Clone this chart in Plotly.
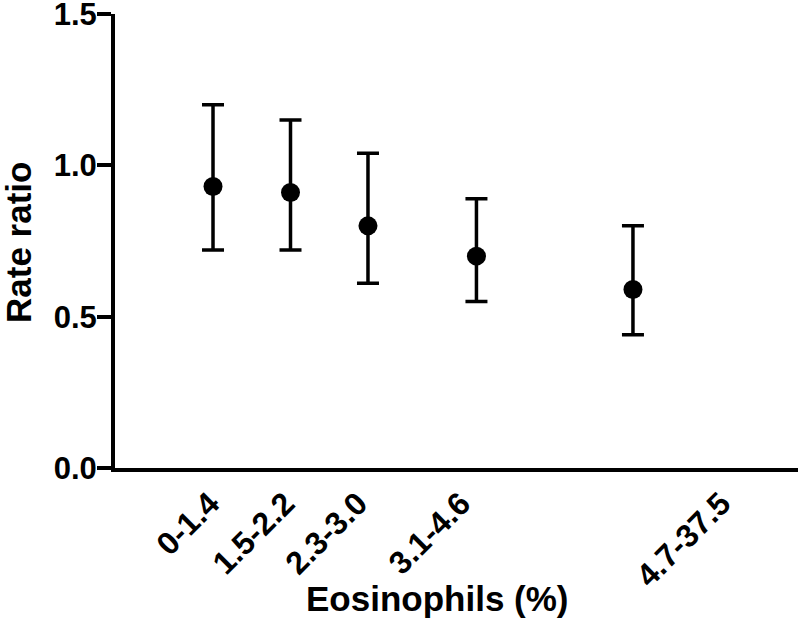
import plotly.graph_objects as go

# Eosinophil groups and rate ratios with 95% CI
groups = ["0-1.4", "1.5-2.2", "2.3-3.0", "3.1-4.6", "4.7-37.5"]
x_pos = [1.0, 2.0, 3.0, 4.4, 6.42]
label_pos = [1.0, 1.97, 2.91, 4.24, 7.6]  # where each group label sits on the axis
rate_ratio = [0.93, 0.91, 0.80, 0.70, 0.59]
ci_low = [0.72, 0.72, 0.61, 0.55, 0.44]
ci_high = [1.20, 1.15, 1.04, 0.89, 0.80]

err_plus = [h - r for h, r in zip(ci_high, rate_ratio)]
err_minus = [r - l for r, l in zip(rate_ratio, ci_low)]

FONT = "Liberation Sans, Arial, sans-serif"

fig = go.Figure()

fig.add_trace(go.Scatter(
    x=x_pos,
    y=rate_ratio,
    mode='markers',
    marker=dict(size=19, color='black'),
    error_y=dict(
        type='data',
        symmetric=False,
        array=err_plus,
        arrayminus=err_minus,
        color='black',
        thickness=3.5,
        width=11,
    ),
    showlegend=False,
    cliponaxis=False,
))

fig.update_layout(
    width=800,
    height=622,
    margin=dict(l=115, r=2, t=14, b=154),
    plot_bgcolor='white',
    paper_bgcolor='white',
    font=dict(family=FONT, color='black'),
    showlegend=False,
)

fig.update_xaxes(
    range=[-0.265, 8.55],
    tickvals=label_pos,
    ticktext=[f"<b>{g}</b>" for g in groups],
    tickangle=-45,
    tickfont=dict(size=32, family=FONT, color='black'),
    ticks='',
    ticklabelstandoff=0,
    ticklabelshift=-3,
    ticklabeloverflow='allow',
    showgrid=False,
    zeroline=False,
    showline=True,
    linecolor='black',
    linewidth=4,
    automargin=False,
)

fig.update_yaxes(
    range=[0, 1.5],
    tickvals=[0, 0.5, 1.0, 1.5],
    ticktext=["<b>0.0</b>", "<b>0.5</b>", "<b>1.0</b>", "<b>1.5</b>"],
    tickfont=dict(size=31, family=FONT, color='black'),
    ticks='outside',
    ticklen=14,
    tickwidth=3.5,
    tickcolor='black',
    ticklabelstandoff=-6,
    ticklabeloverflow='allow',
    showgrid=False,
    zeroline=False,
    showline=True,
    linecolor='black',
    linewidth=4,
    automargin=False,
)

# Axis titles
fig.add_annotation(
    text="<b>Eosinophils (%)</b>",
    xref='paper', yref='paper',
    x=(437 - 115) / 683, y=-(598 - 468) / 454,
    xanchor='center', yanchor='middle',
    showarrow=False,
    font=dict(size=35, family=FONT, color='black'),
)
fig.add_annotation(
    text="<b>Rate ratio</b>",
    xref='paper', yref='paper',
    x=-(115 - 18) / 683, y=(468 - 243) / 454,
    xanchor='center', yanchor='middle',
    textangle=-90,
    showarrow=False,
    font=dict(size=35, family=FONT, color='black'),
)

# drop the default page margin so the figure sits at the window's corner
fig.write_html(
    "out.html",
    config={'displayModeBar': False},
    post_script="document.body.style.margin = '0';",
)
